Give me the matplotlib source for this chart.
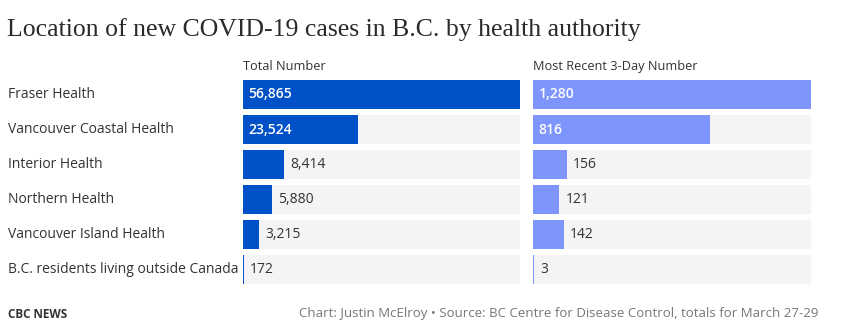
import matplotlib.pyplot as plt
from matplotlib.transforms import blended_transform_factory

regions = ['Fraser Health', 'Vancouver Coastal Health', 'Interior Health',
           'Northern Health', 'Vancouver Island Health',
           'B.C. residents living outside Canada']
total = [56865, 23524, 8414, 5880, 3215, 172]
recent = [1280, 816, 156, 121, 142, 3]

W, H = 846, 330
plt.rcParams['font.family'] = ['Open Sans', 'DejaVu Sans']
fig = plt.figure(figsize=(W / 100, H / 100), dpi=100)

def px_axes(x0, x1, y0, y1):
    return fig.add_axes([x0 / W, 1 - y1 / H, (x1 - x0) / W, (y1 - y0) / H])

def panel(ax, vals, color, title):
    vmax = max(vals)
    n = len(vals)
    ys = range(n)
    ax.barh(ys, [vmax] * n, height=0.857, color='#f4f4f6', left=0)
    ax.barh(ys, vals, height=0.857, color=color, left=0)
    for y, v in zip(ys, vals):
        s = f'{v:,}'
        if v / vmax > 0.3:
            ax.annotate(s, (0, y), xytext=(4, 0), textcoords='offset points',
                        va='center', ha='left', color='white', fontsize=10,
                        fontweight='semibold')
        else:
            ax.annotate(s, (v, y), xytext=(4.5, 0), textcoords='offset points',
                        va='center', ha='left', color='#333333', fontsize=10)
    ax.set_xlim(0, vmax)
    ax.set_ylim(n - 0.5, -0.5)
    ax.axis('off')
    ax.text(0, 1.02, title, transform=ax.transAxes, fontsize=9.2,
            color='#333333', va='bottom', ha='left')

ax1 = px_axes(243, 520, 77, 287)
ax2 = px_axes(533, 811, 77, 287)
panel(ax1, total, '#0051c7', 'Total Number')
panel(ax2, recent, '#7d95fc', 'Most Recent 3-Day Number')

tr = blended_transform_factory(fig.transFigure, ax1.transData)
for i, r in enumerate(regions):
    ax1.text(8 / W, i, r, transform=tr, va='center', ha='left',
             fontsize=10, color='#333333')

fig.text(7 / W, 1 - 30 / H, 'Location of new COVID-19 cases in B.C. by health authority',
         family='Liberation Serif', fontsize=18.5, color='#2a2a2a', va='center', ha='left')

fig.text(8 / W, 1 - 314 / H, 'CBC NEWS', fontsize=8.5, fontweight='bold',
         color='#333333', va='center', ha='left')
fig.text(818 / W, 1 - 314 / H,
         'Chart: Justin McElroy \u2022 Source: BC Centre for Disease Control, totals for March 27-29',
         fontsize=9.5, color='#777777', va='center', ha='right')

fig.savefig('out.png', dpi=100)
